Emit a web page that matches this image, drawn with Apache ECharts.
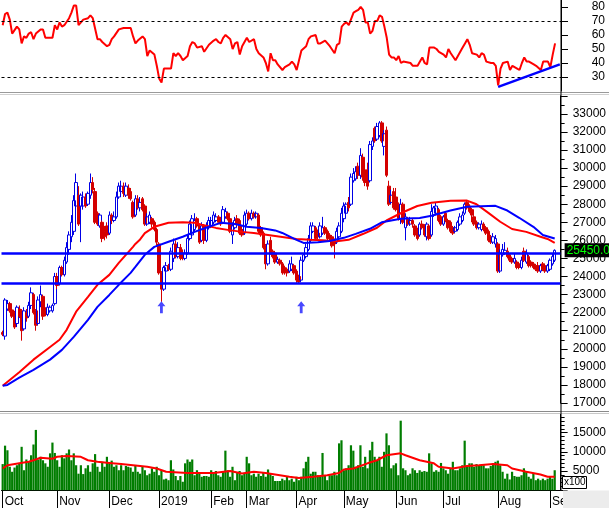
<!DOCTYPE html>
<html><head><meta charset="utf-8">
<script src="https://cdn.jsdelivr.net/npm/echarts@6/dist/echarts.min.js"></script>
<style>html,body{margin:0;padding:0;background:#fff}#c{width:609px;height:508px}</style>
</head><body><div id="c"></div>
<script>
// ---- month labels (bottom axis) ----
const monthNames = ['Oct','Nov','Dec','2019','Feb','Mar','Apr','May','Jun','Jul','Aug','Sep'];
const monthStart = [0,23,45,66,88,103,124,144,166,186,209,231];
const SLOTS = 236; // 234 trading days + 2 empty slots at right

// ---- daily prices ----
const open = [20900,20700,22200,22500,22150,22000,21400,22200,22100,21100,22000,21800,22400,23000,22100,21400,22600,22900,22100,21900,22100,22100,22500,
24000,23600,24500,24100,24800,25500,26200,26500,27900,28500,27900,27900,28400,28000,28500,29200,28700,27500,26800,27000,26500,26800,
26400,27400,27100,27300,28400,28700,29000,28500,28900,28700,28100,27400,28300,27800,28300,27900,26900,27000,27200,27000,26600,
25800,24200,23300,24300,24600,24400,25000,25800,25100,25600,25300,25000,25300,26100,26300,26600,27200,26800,26000,26800,26000,26700,
26800,27000,27100,27300,27100,27000,27300,27500,27200,26300,26700,27200,27100,26600,26400,
26900,27500,27200,27500,27300,27400,26700,26400,25700,24700,26000,25400,25300,24800,24900,24700,24500,24400,24300,24400,24600,
24300,24000,23800,24900,25100,25500,26000,26500,26700,26400,26200,26400,26700,26500,26300,26200,26000,25900,26200,26500,
27200,27500,28100,28000,29300,29400,30100,29600,30600,29900,29900,29300,31200,32200,31600,31800,32500,31200,32100,29000,28100,28700,
28400,28000,27200,28000,26700,27200,26900,27100,26800,26600,26300,26900,26800,26200,26800,26300,27400,27500,27700,27300,
26900,27500,27100,27000,26700,26500,26600,26900,27100,27500,28100,27900,27700,27300,27000,26700,26600,26900,26700,26500,26200,25900,25800,
25800,24300,25200,25300,25400,25200,25000,24800,24800,24700,24500,25400,24800,25100,24800,24700,24600,24600,24300,24700,24600,24300,
24400,24700,24900];
const close = [20800,22700,22500,22100,21800,21200,22300,21800,21000,22100,21700,22400,23100,22000,21300,22700,23000,21800,21900,22300,22300,22400,24000,
23500,24500,24100,24900,25600,26300,27000,28200,29200,26900,28500,28400,27900,28600,29200,28800,27000,26900,27400,26100,26200,26300,
27400,27100,27300,28400,29000,29000,28600,29000,28500,28300,27300,28300,27800,28100,27700,26900,27300,27400,26900,26600,25900,
24200,23300,24500,24600,24400,25400,25800,25100,25600,25000,25000,25300,26100,26900,27200,27100,26800,25900,26800,26000,26800,27100,
27100,27400,27300,27000,26900,27700,27600,27200,26500,26800,27100,26900,26400,26300,27400,
27500,27200,27500,27300,27500,26500,26300,25600,24700,25800,25300,25100,24800,24950,24700,24200,24200,24200,24700,24700,24200,
23800,23700,24900,25200,25600,26100,26800,26800,26100,26200,26800,26700,26400,26100,26100,25700,25800,26500,26800,27500,
27900,28000,27800,29500,29700,29800,29600,30700,29500,29200,29000,31300,31500,31500,32300,32500,31500,31900,29600,28000,28500,27800,
27700,27200,28000,27000,27300,26900,27100,26900,26300,26100,26900,26700,26300,26900,26100,27600,27800,27900,27100,26900,
27300,27100,26700,26500,26400,26700,27000,27300,27400,28000,27800,27600,27400,26900,26700,26900,26900,26600,26400,26000,25900,26200,26100,
24300,25300,25500,25450,25100,24900,24800,25000,24500,24500,24900,24900,25300,24600,24600,24500,24400,24300,24600,24400,24300,24600,
24900,25100,25450];
const high = [21000,22800,22700,22600,22300,22100,22400,22400,22200,22300,22200,22600,23400,23100,22200,22900,23500,23000,22300,22500,22400,22500,24200,
24200,24600,24600,25100,25900,26500,27400,28500,29700,29000,28600,28700,28600,28700,29700,29500,28900,27600,27500,27100,26800,27000,
27600,27500,27600,28700,29200,29300,29200,29200,29100,28900,28200,28500,28500,28400,28400,28000,27500,27600,27300,27100,26700,
25900,24300,24600,24800,24700,25600,26100,26000,25900,25800,25500,25500,26300,27100,27400,27500,27300,26900,27000,26900,27000,27300,
27300,27600,27500,27400,27300,27900,27800,27600,27300,27000,27300,27400,27200,26800,27600,
27700,27600,27700,27600,27600,27500,26800,26500,25800,26000,26200,25500,25400,25100,25000,24800,24600,24500,24900,25100,24700,
24400,24100,25100,25300,25800,26300,27000,27000,26800,26600,27000,27300,26800,26600,26400,26300,26100,26700,27000,27800,
28100,28100,28400,29700,30000,30100,30300,31100,30800,30100,30300,31500,31700,32300,32500,32600,32600,32100,32300,29300,28800,28900,
28900,28100,28300,28100,27500,27300,27300,27200,26900,26700,27000,27100,26900,27000,26900,28000,27900,28100,27800,27400,
27400,27600,27200,27100,26800,26800,27100,27500,27600,28100,28200,28000,27800,27400,27100,27000,27100,27000,26800,26600,26300,26400,26300,
25900,25500,25800,25900,25600,25300,25100,25300,24900,24800,25100,25600,25500,25200,24900,24800,24700,24800,24700,24800,24700,24700,
25000,25300,25500];
const low = [20700,20500,22100,22000,21700,21100,21200,21700,20450,21000,21500,21700,22200,21900,21000,21300,22300,21600,21800,21800,22000,22000,22400,
23300,23500,24000,24000,24700,25200,25900,26300,27600,26800,25900,27700,27800,27900,28300,28600,26900,26800,26700,25900,26000,26100,
26300,26900,27000,27200,28300,28600,28400,28400,28300,28200,27200,27300,27700,27600,27600,26800,26800,26900,26700,26500,25700,
24100,22600,23200,24200,24300,24300,24800,25000,25000,24900,24900,24900,25200,26000,26200,26500,26700,25800,25900,25800,25900,26600,
26700,26900,27000,26900,26800,26900,27200,27100,26400,25800,26600,26800,26300,26200,26300,
26800,27100,27100,27200,27200,26400,26200,25500,24400,24600,25200,25000,24700,24700,24600,24100,24100,24000,24200,24300,24100,
23650,23600,23700,24800,25000,25400,25900,26400,26000,26000,26100,26300,26300,26000,26000,25600,25000,25800,26000,26400,
27000,27300,27600,27900,29200,29300,29400,29400,29300,29000,28800,29200,31000,31400,31500,31700,31400,30700,29500,27900,28000,27700,
27600,27100,26900,26900,26000,26800,26800,26700,26200,26000,26200,26600,26200,26000,26000,26200,27300,27400,27000,26800,
26800,27000,26600,26400,26300,26400,26500,26800,27000,27400,27700,27500,27000,26800,26600,26600,26500,26500,26300,25900,25800,25800,25600,
24200,24200,25100,25200,25000,24800,24700,24700,24400,24400,24400,24800,24700,24500,24500,24400,24300,24200,24200,24300,24200,24200,
24300,24600,24800];
const lastPrice = 25450;

// ---- moving averages: [day index, value] ----
const maRed = [[0,17950],[7,18700],[13,19400],[20,20100],[24,20500],[27,21050],[31,22050],[36,22870],[40,23540],[45,24090],[49,24750],[55,25640],[56,25800],[58,26050],[60,26400],[64,26750],[70,26970],[76,27000],[81,26970],[84,26860],[90,26690],[95,26580],[101,26470],[106,26410],[112,26300],[118,26190],[124,26080],[130,26030],[135,26000],[141,25950],[146,26030],[152,26350],[158,26700],[162,27100],[168,27500],[175,27900],[181,28080],[189,28190],[196,28200],[200,28000],[205,27520],[210,27030],[215,26630],[221,26470],[227,26200],[230,26080],[233,25860]];
const maBlue = [[0,17950],[2,18000],[7,18400],[13,18830],[20,19400],[25,19940],[30,20660],[36,21600],[40,22320],[45,22980],[49,23540],[54,24200],[56,24530],[58,24870],[60,25200],[64,25640],[70,25920],[76,26200],[81,26470],[87,26750],[92,26970],[98,26910],[103,26750],[109,26690],[115,26550],[118,26410],[124,26030],[127,25860],[133,25900],[138,25970],[144,26140],[149,26360],[155,26640],[160,27000],[168,27200],[176,27240],[181,27360],[189,27650],[196,27860],[208,27910],[213,27650],[218,27250],[224,26750],[228,26300],[233,26100]];
const supportLevels = [25300, 23650];
const arrowDays = [67, 126];
const arrowPrices = [22300, 22300];

// ---- RSI ----
const rsi = [[0,67],[1,75],[2,76],[3,71],[4,61],[6,66],[7,64],[8,54],[9,59],[10,58],[11,61],[12,62],[13,57],[14,61],[16,64],[17,64],[18,58],[21,58],[22,67],[23,64],[24,69],[25,66],[26,67],[28,72],[29,76],[30,81],[31,81],[32,67],[33,69],[34,71],[36,72],[37,74],[38,72],[40,57],[41,57],[42,55],[44,52],[45,53],[46,57],[47,59],[49,64],[51,65],[54,65],[55,59],[56,54],[57,56],[59,59],[60,57],[61,45],[62,49],[64,46],[65,38],[66,29],[67,26],[68,36],[71,36],[72,47],[73,45],[74,47],[75,45],[76,42],[78,45],[79,52],[80,55],[81,54],[82,51],[84,52],[85,48],[87,53],[89,56],[90,57],[91,55],[92,54],[93,58],[94,60],[96,57],[97,50],[98,54],[99,55],[100,46],[101,52],[103,58],[104,55],[106,57],[107,50],[108,47],[110,44],[111,40],[112,34],[113,47],[114,42],[115,42],[116,39],[118,35],[119,37],[121,39],[122,41],[123,39],[124,35],[125,42],[126,49],[128,52],[129,57],[130,59],[132,60],[133,54],[134,54],[136,56],[137,54],[138,52],[140,47],[141,53],[142,54],[143,66],[144,68],[145,69],[146,67],[148,76],[149,77],[150,78],[151,80],[152,78],[153,69],[154,69],[155,61],[156,63],[157,70],[158,70],[159,74],[160,73],[161,66],[162,58],[163,46],[164,44],[165,44],[166,42],[167,45],[168,40],[169,41],[172,40],[173,38],[175,38],[176,41],[177,44],[178,40],[179,39],[180,51],[182,51],[183,50],[184,48],[186,46],[187,44],[188,50],[189,47],[191,42],[192,45],[194,51],[195,54],[196,57],[197,53],[198,47],[200,46],[201,44],[202,47],[203,46],[204,41],[206,40],[207,40],[208,38],[209,24],[210,36],[211,40],[213,41],[214,35],[215,38],[217,36],[218,35],[219,40],[220,44],[221,41],[222,41],[224,39],[225,38],[227,35],[228,41],[229,41],[230,41],[231,37],[232,46],[233,54]];
const rsiLevels = [70, 30];
const rsiTrend = [[209, 23], [235, 39]];

// ---- volume (x100) ----
const volume = [6800,11600,10400,6100,4800,5900,6500,7000,11300,5200,8000,7400,9100,11900,15700,8000,8700,7800,7000,6100,
9600,12400,9700,7800,6100,9100,8300,9600,10600,7800,9600,6500,4300,6500,4200,5700,6500,4800,7000,9400,
6100,4800,7400,6100,8700,7000,7700,6100,6500,5200,6500,5200,6300,6100,5900,4800,6500,4800,4300,6100,
5200,3900,4300,5700,4800,6100,3900,5200,2800,3000,2600,7800,5400,3700,2600,3700,2200,7000,8000,7400,
8000,3900,5200,4300,3500,3700,3700,3500,5200,4500,5000,3900,3500,4800,10300,5200,3500,6100,2600,4500,
5000,3900,4500,8700,7000,3900,4300,3500,4300,3700,4500,3500,5400,4300,3700,2400,2400,2400,3000,2600,
3500,2600,3000,2200,3500,2600,
3500,5700,7400,8700,4300,4800,4800,3900,3500,9700,
3900,2600,3900,3900,4800,3900,12200,13000,5200,5700,
6500,11700,10300,6100,6500,11700,6100,8700,5700,10400,
12600,8700,7800,8700,6100,10000,14800,11700,5700,6500,
7000,3900,18100,5700,5200,3900,4300,5700,5200,4500,
5200,4800,5000,4800,9600,7000,4800,5200,4800,7100,
5700,5200,4300,5700,7400,5200,5200,5700,6500,12900,
6100,7000,7000,6100,6800,6500,6300,6500,5700,5700,
6300,7000,7400,7700,6500,4800,3000,4300,2800,4800,
3700,3500,3500,3900,5700,5000,3500,3000,4300,2600,
3000,2600,3000,2600,3000,3700,3000,5200];
const volMa = [[0,5650],[2,6500],[7,7000],[11,7400],[13,7800],[16,8450],[21,8200],[23,8700],[27,8900],[33,8700],[36,7800],[40,7400],[45,7100],[50,6800],[55,6500],[61,6100],[65,5650],[69,4800],[78,4500],[89,4500],[96,5000],[101,4350],[106,4800],[111,4500],[117,3900],[121,3500],[125,3200],[131,3500],[137,3900],[142,4500],[144,5400],[148,5650],[154,7000],[158,7800],[162,9100],[168,9600],[170,9100],[176,7800],[182,7000],[184,6100],[190,5650],[196,6300],[201,6500],[207,6800],[213,6500],[215,5650],[221,4800],[227,4100],[230,3500],[233,3500]];

// ---- build ----
const FONT = 'Liberation Sans, Arial, sans-serif';
const cats = Array.from({length: SLOTS}, (_, i) => String(i));
const candles = open.map((o, i) => [o, close[i], low[i], high[i]]);
const isMonth = (i) => monthStart.indexOf(i) >= 0;
const plain = (v) => String(v);

const chart = echarts.init(document.getElementById('c'), null, {renderer: 'canvas'});
const gridL = 1.5, gridR = 48;
const baseY = (extra) => Object.assign({
  type: 'value', position: 'right', scale: false,
  axisLine: {show: true, lineStyle: {color: '#000', width: 1}},
  axisTick: {show: true, inside: false, length: 7, lineStyle: {color: '#000'}},
  splitLine: {show: false}
}, extra);
const hiddenX = (g) => ({type: 'category', gridIndex: g, data: cats, boundaryGap: true,
  axisLine: {show: false}, axisTick: {show: false}, axisLabel: {show: false}, splitLine: {show: false}});

chart.setOption({
  animation: false,
  backgroundColor: '#ffffff',
  textStyle: {fontFamily: FONT},
  grid: [
    {left: gridL, right: gridR, top: 0, height: 91},
    {left: gridL, right: gridR, top: 95.8, height: 307.2},
    {left: gridL, right: gridR, top: 413.4, height: 76.8}
  ],
  xAxis: [
    hiddenX(0), hiddenX(1),
    {type: 'category', gridIndex: 2, data: cats, boundaryGap: true,
     axisLine: {show: true, lineStyle: {color: '#000', width: 1}},
     axisTick: {show: true, alignWithLabel: true, interval: (i) => isMonth(i), length: 18, lineStyle: {color: '#000'}},
     axisLabel: {interval: (i) => isMonth(i), formatter: (v, i) => monthNames[monthStart.indexOf(+v)],
       align: 'left', padding: [0, 0, 0, 2], margin: 5, color: '#000', fontSize: 12, fontFamily: FONT},
     splitLine: {show: false}}
  ],
  yAxis: [
    baseY({gridIndex: 0, min: 20, max: 85, interval: 10,
      axisLabel: {color: '#000', fontSize: 12, fontFamily: FONT, margin: 44, align: 'right', showMinLabel: false, formatter: plain}}),
    baseY({gridIndex: 1, min: 17000, max: 34000, interval: 1000,
      minorTick: {show: true, splitNumber: 2, length: 4, lineStyle: {color: '#000'}},
      axisLabel: {color: '#000', fontSize: 12, fontFamily: FONT, margin: 12, showMaxLabel: false, formatter: plain}}),
    baseY({gridIndex: 2, min: 0, max: 20000, interval: 5000,
      minorTick: {show: true, splitNumber: 5, length: 4, lineStyle: {color: '#000'}},
      axisLabel: {color: '#000', fontSize: 12, fontFamily: FONT, margin: 12, showMinLabel: false, showMaxLabel: false, formatter: plain}})
  ],
  series: [
    {type: 'line', name: 'RSI', xAxisIndex: 0, yAxisIndex: 0, data: rsi, showSymbol: false, symbol: 'none',
     connectNulls: true, lineStyle: {color: '#ff0000', width: 2}, z: 3,
     markLine: {silent: true, symbol: 'none', label: {show: false},
       data: [
         ...rsiLevels.map(v => ({yAxis: v, lineStyle: {color: '#000', width: 1, type: [3, 3]}})),
         [{coord: rsiTrend[0]}, {coord: rsiTrend[1], lineStyle: {color: '#0000ff', width: 2.5, type: 'solid'}}]
       ]}},
    {type: 'candlestick', name: 'Price', xAxisIndex: 1, yAxisIndex: 1, data: candles, barWidth: 3,
     itemStyle: {color: 'rgba(0,0,0,0)', color0: '#d40000', borderColor: '#0000e6', borderColor0: '#d40000', borderWidth: 1},
     z: 2,
     markLine: {silent: true, symbol: 'none', z: 4,
       lineStyle: {color: '#0000ff', width: 2.5, type: 'solid'},
       label: {show: false},
       data: supportLevels.map(v => ({yAxis: v}))}},
    {type: 'line', name: 'Last', xAxisIndex: 1, yAxisIndex: 1, data: [], symbol: 'none', z: 6,
     markLine: {silent: true, symbol: 'none',
       lineStyle: {color: 'rgba(0,0,0,0)', width: 1},
       data: [{yAxis: lastPrice,
          label: {show: true, position: 'end', distance: 4, formatter: (p) => Number(p.value).toFixed(2),
            backgroundColor: '#000', color: '#00ff00', fontSize: 12, fontFamily: FONT, padding: [1, 2, 1, 2]}}]}},
    {type: 'line', name: 'MA red', xAxisIndex: 1, yAxisIndex: 1, data: maRed, symbol: 'none', connectNulls: true,
     lineStyle: {color: '#ff0000', width: 2}, z: 3},
    {type: 'line', name: 'MA blue', xAxisIndex: 1, yAxisIndex: 1, data: maBlue, symbol: 'none', connectNulls: true,
     lineStyle: {color: '#0000ff', width: 2}, z: 3},
    {type: 'scatter', name: 'arrows', xAxisIndex: 1, yAxisIndex: 1,
     data: arrowDays.map((d, k) => [d, arrowPrices[k]]),
     symbol: 'path://M4,0 L8,5 L5.4,5 L5.4,12 L2.6,12 L2.6,5 L0,5 Z', symbolSize: [8, 12],
     itemStyle: {color: '#1a1aff'}, z: 5},
    {type: 'bar', name: 'Volume', xAxisIndex: 2, yAxisIndex: 2, data: volume, barWidth: 2.2,
     itemStyle: {color: '#007d00'}, z: 2},
    {type: 'line', name: 'Vol MA', xAxisIndex: 2, yAxisIndex: 2, data: volMa, symbol: 'none', connectNulls: true,
     lineStyle: {color: '#ff0000', width: 2}, z: 3}
  ],
  graphic: [
    {type: 'rect', shape: {x: 0, y: 92, width: 609, height: 1}, style: {fill: '#9a9a9a'}, silent: true, z: 50},
    {type: 'rect', shape: {x: 0, y: 94, width: 609, height: 1}, style: {fill: '#d0d0d0'}, silent: true, z: 50},
    {type: 'rect', shape: {x: 0, y: 411, width: 609, height: 1}, style: {fill: '#8a8a8a'}, silent: true, z: 50},
    {type: 'rect', shape: {x: 0, y: 413, width: 609, height: 1}, style: {fill: '#c8c8c8'}, silent: true, z: 50},
    {type: 'rect', shape: {x: 560.5, y: 0, width: 1, height: 490}, style: {fill: '#000'}, silent: true, z: 60},
    {type: 'rect', shape: {x: 563, y: 490.5, width: 46, height: 18}, style: {fill: '#ececec'}, silent: true, z: 70},
    {type: 'rect', shape: {x: 562.5, y: 476.5, width: 24, height: 12}, style: {fill: '#fff', stroke: '#000', lineWidth: 1}, silent: true, z: 70},
    {type: 'text', x: 564, y: 477.5, style: {text: 'x100', fill: '#000', font: '10px ' + FONT}, silent: true, z: 71}
  ]
});
</script></body></html>
